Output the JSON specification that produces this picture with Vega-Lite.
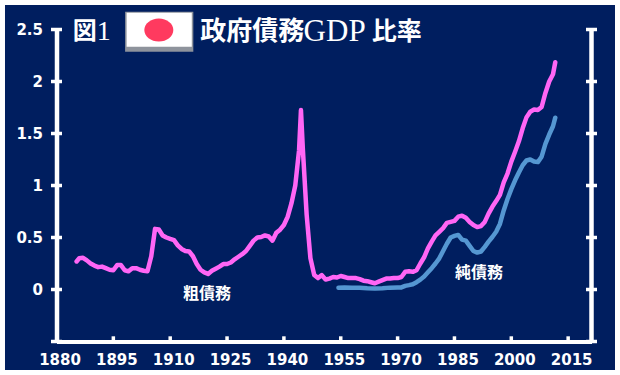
{"$schema":"https://vega.github.io/schema/vega-lite/v6.json","width":535,"height":312,"autosize":"none","padding":{"left":56.5,"top":29.5,"right":28.5,"bottom":33.5},"background":"white","view":{"stroke":null},
"datasets":{
"gross":[{"year":1885.3,"ratio":0.27},{"year":1886,"ratio":0.3},{"year":1887,"ratio":0.305},{"year":1888,"ratio":0.28},{"year":1889,"ratio":0.25},{"year":1890,"ratio":0.23},{"year":1891,"ratio":0.215},{"year":1892,"ratio":0.22},{"year":1893,"ratio":0.205},{"year":1894,"ratio":0.19},{"year":1895,"ratio":0.185},{"year":1896,"ratio":0.235},{"year":1897,"ratio":0.235},{"year":1898,"ratio":0.185},{"year":1899,"ratio":0.175},{"year":1900,"ratio":0.205},{"year":1901,"ratio":0.205},{"year":1902,"ratio":0.19},{"year":1903,"ratio":0.18},{"year":1904,"ratio":0.175},{"year":1905,"ratio":0.32},{"year":1906,"ratio":0.583},{"year":1907,"ratio":0.577},{"year":1908,"ratio":0.52},{"year":1909,"ratio":0.5},{"year":1910,"ratio":0.487},{"year":1911,"ratio":0.475},{"year":1912,"ratio":0.425},{"year":1913,"ratio":0.39},{"year":1914,"ratio":0.37},{"year":1915,"ratio":0.365},{"year":1916,"ratio":0.32},{"year":1917,"ratio":0.245},{"year":1918,"ratio":0.19},{"year":1919,"ratio":0.165},{"year":1920,"ratio":0.15},{"year":1921,"ratio":0.18},{"year":1922,"ratio":0.2},{"year":1923,"ratio":0.22},{"year":1924,"ratio":0.245},{"year":1925,"ratio":0.245},{"year":1926,"ratio":0.26},{"year":1927,"ratio":0.29},{"year":1928,"ratio":0.315},{"year":1929,"ratio":0.34},{"year":1930,"ratio":0.37},{"year":1931,"ratio":0.42},{"year":1932,"ratio":0.47},{"year":1933,"ratio":0.5},{"year":1934,"ratio":0.505},{"year":1935,"ratio":0.52},{"year":1936,"ratio":0.51},{"year":1937,"ratio":0.47},{"year":1938,"ratio":0.545},{"year":1939,"ratio":0.575},{"year":1940,"ratio":0.62},{"year":1941,"ratio":0.7},{"year":1942,"ratio":0.83},{"year":1943,"ratio":1.0},{"year":1944,"ratio":1.34},{"year":1944.5,"ratio":1.726},{"year":1945,"ratio":1.35},{"year":1946,"ratio":0.72},{"year":1947,"ratio":0.3},{"year":1948,"ratio":0.14},{"year":1949,"ratio":0.11},{"year":1950,"ratio":0.138},{"year":1951,"ratio":0.096},{"year":1952,"ratio":0.105},{"year":1953,"ratio":0.12},{"year":1954,"ratio":0.115},{"year":1955,"ratio":0.13},{"year":1956,"ratio":0.12},{"year":1957,"ratio":0.11},{"year":1958,"ratio":0.11},{"year":1959,"ratio":0.11},{"year":1960,"ratio":0.1},{"year":1961,"ratio":0.085},{"year":1962,"ratio":0.08},{"year":1963,"ratio":0.07},{"year":1964,"ratio":0.06},{"year":1965,"ratio":0.075},{"year":1966,"ratio":0.09},{"year":1967,"ratio":0.105},{"year":1968,"ratio":0.105},{"year":1969,"ratio":0.11},{"year":1970,"ratio":0.11},{"year":1971,"ratio":0.12},{"year":1972,"ratio":0.17},{"year":1973,"ratio":0.175},{"year":1974,"ratio":0.17},{"year":1975,"ratio":0.185},{"year":1976,"ratio":0.25},{"year":1977,"ratio":0.31},{"year":1978,"ratio":0.395},{"year":1979,"ratio":0.46},{"year":1980,"ratio":0.52},{"year":1981,"ratio":0.555},{"year":1982,"ratio":0.59},{"year":1983,"ratio":0.64},{"year":1984,"ratio":0.65},{"year":1985,"ratio":0.66},{"year":1986,"ratio":0.7},{"year":1987,"ratio":0.71},{"year":1988,"ratio":0.69},{"year":1989,"ratio":0.65},{"year":1990,"ratio":0.62},{"year":1991,"ratio":0.6},{"year":1992,"ratio":0.61},{"year":1993,"ratio":0.65},{"year":1994,"ratio":0.73},{"year":1995,"ratio":0.795},{"year":1996,"ratio":0.85},{"year":1997,"ratio":0.91},{"year":1998,"ratio":1.03},{"year":1999,"ratio":1.115},{"year":2000,"ratio":1.23},{"year":2001,"ratio":1.325},{"year":2002,"ratio":1.425},{"year":2003,"ratio":1.55},{"year":2004,"ratio":1.655},{"year":2005,"ratio":1.71},{"year":2006,"ratio":1.73},{"year":2007,"ratio":1.726},{"year":2008,"ratio":1.755},{"year":2009,"ratio":1.89},{"year":2010,"ratio":2.0},{"year":2011,"ratio":2.07},{"year":2011.6,"ratio":2.185}],
"net":[{"year":1954.4,"ratio":0.016},{"year":1956,"ratio":0.02},{"year":1958,"ratio":0.018},{"year":1960,"ratio":0.016},{"year":1962,"ratio":0.012},{"year":1964,"ratio":0.01},{"year":1966,"ratio":0.012},{"year":1968,"ratio":0.018},{"year":1970,"ratio":0.02},{"year":1971,"ratio":0.02},{"year":1972,"ratio":0.035},{"year":1973,"ratio":0.042},{"year":1974,"ratio":0.05},{"year":1975,"ratio":0.07},{"year":1976,"ratio":0.095},{"year":1977,"ratio":0.125},{"year":1978,"ratio":0.165},{"year":1979,"ratio":0.205},{"year":1980,"ratio":0.25},{"year":1981,"ratio":0.3},{"year":1982,"ratio":0.37},{"year":1983,"ratio":0.44},{"year":1984,"ratio":0.5},{"year":1985,"ratio":0.515},{"year":1986,"ratio":0.525},{"year":1987,"ratio":0.48},{"year":1988,"ratio":0.47},{"year":1989,"ratio":0.42},{"year":1990,"ratio":0.37},{"year":1991,"ratio":0.355},{"year":1992,"ratio":0.365},{"year":1993,"ratio":0.41},{"year":1994,"ratio":0.46},{"year":1995,"ratio":0.505},{"year":1996,"ratio":0.555},{"year":1997,"ratio":0.63},{"year":1998,"ratio":0.76},{"year":1999,"ratio":0.87},{"year":2000,"ratio":0.965},{"year":2001,"ratio":1.05},{"year":2002,"ratio":1.125},{"year":2003,"ratio":1.195},{"year":2004,"ratio":1.24},{"year":2005,"ratio":1.25},{"year":2006,"ratio":1.23},{"year":2007,"ratio":1.225},{"year":2008,"ratio":1.277},{"year":2009,"ratio":1.4},{"year":2010,"ratio":1.49},{"year":2011,"ratio":1.57},{"year":2011.6,"ratio":1.652}],
"yticks":[{"year":1878.55,"year_end":1881.45,"ratio":-0.5},{"year":1878.55,"year_end":1881.45,"ratio":0},{"year":1878.55,"year_end":1881.45,"ratio":0.5},{"year":1878.55,"year_end":1881.45,"ratio":1},{"year":1878.55,"year_end":1881.45,"ratio":1.5},{"year":1878.55,"year_end":1881.45,"ratio":2},{"year":1878.55,"year_end":1881.45,"ratio":2.5},{"year":2019.71,"year_end":2022.61,"ratio":-0.5},{"year":2019.71,"year_end":2022.61,"ratio":0},{"year":2019.71,"year_end":2022.61,"ratio":0.5},{"year":2019.71,"year_end":2022.61,"ratio":1},{"year":2019.71,"year_end":2022.61,"ratio":1.5},{"year":2019.71,"year_end":2022.61,"ratio":2},{"year":2019.71,"year_end":2022.61,"ratio":2.5}],
"xticks":[{"year":1895,"ratio":-0.5,"ratio_end":-0.45},{"year":1910,"ratio":-0.5,"ratio_end":-0.45},{"year":1925,"ratio":-0.5,"ratio_end":-0.45},{"year":1940,"ratio":-0.5,"ratio_end":-0.45},{"year":1955,"ratio":-0.5,"ratio_end":-0.45},{"year":1970,"ratio":-0.5,"ratio_end":-0.45},{"year":1985,"ratio":-0.5,"ratio_end":-0.45},{"year":2000,"ratio":-0.5,"ratio_end":-0.45},{"year":2015,"ratio":-0.5,"ratio_end":-0.45}]},
"encoding":{"x":{"field":"year","type":"quantitative","scale":{"domain":[1880,2021.16],"nice":false,"zero":false},"axis":{"values":[1880,1895,1910,1925,1940,1955,1970,1985,2000,2015],"format":"d","title":null,"grid":false,"zindex":1,"domainColor":"white","domainWidth":4,"ticks":false,"labelColor":"white","labelFont":"DejaVu Sans","labelFontWeight":"bold","labelFontSize":15,"labelPadding":11,"labelOffset":3,"labelFlush":false,"labelOverlap":false}},
"y":{"field":"ratio","type":"quantitative","scale":{"domain":[-0.5,2.5],"nice":false,"zero":false},"axis":{"values":[0,0.5,1,1.5,2,2.5],"format":".1~f","title":null,"grid":false,"zindex":1,"domainColor":"white","domainWidth":4.5,"ticks":false,"labelColor":"white","labelFont":"DejaVu Sans","labelFontWeight":"bold","labelFontSize":15,"labelPadding":14,"labelFlush":false,"labelOverlap":false}}},
"layer":[
{"data":{"values":[{"year":1866.41,"year_end":2027.36,"ratio":-0.774,"ratio_end":2.7356}]},"mark":{"type":"rect","color":"#001E5F"},"encoding":{"x2":{"field":"year_end"},"y2":{"field":"ratio_end"}}},
{"data":{"values":[{"year":1898.1,"year_end":1916.1,"ratio":2.287,"ratio_end":2.671}]},"mark":{"type":"rect","color":"#8E939C"},"encoding":{"x2":{"field":"year_end"},"y2":{"field":"ratio_end"}}},
{"data":{"values":[{"year":1898.5,"year_end":1915.7,"ratio":2.335,"ratio_end":2.66}]},"mark":{"type":"rect","color":"white"},"encoding":{"x2":{"field":"year_end"},"y2":{"field":"ratio_end"}}},
{"data":{"values":[{"year":1907,"ratio":2.495}]},"mark":{"type":"point","filled":true,"opacity":1,"color":"#FF3A5F","shape":"M-1,0A1,0.8,0,1,1,1,0A1,0.8,0,1,1,-1,0Z","size":841}},
{"data":{"name":"gross"},"mark":{"type":"line","color":"#FF66F5","strokeWidth":4.5,"strokeCap":"round","strokeJoin":"round"}},
{"data":{"name":"net"},"mark":{"type":"line","color":"#5597D2","strokeWidth":4.5,"strokeCap":"round","strokeJoin":"round"}},
{"data":{"values":[{"year":2021.16,"ratio":-0.5,"ratio_end":2.5}]},"mark":{"type":"rule","color":"white","strokeWidth":4.5},"encoding":{"y2":{"field":"ratio_end"}}},
{"data":{"name":"yticks"},"mark":{"type":"rule","color":"white","strokeWidth":3.5},"encoding":{"x2":{"field":"year_end"}}},
{"data":{"name":"xticks"},"mark":{"type":"rule","color":"white","strokeWidth":3.5},"encoding":{"y2":{"field":"ratio_end"}}},
{"data":{"values":[{"year":1919.7,"ratio":-0.043,"label":"粗債務"},{"year":1991.5,"ratio":0.16,"label":"純債務"}]},"mark":{"type":"text","color":"white","font":"Noto Sans CJK JP","fontWeight":"bold","fontSize":16},"encoding":{"text":{"field":"label"}}},
{"data":{"values":[{"year":1884.3,"ratio":2.476,"label":"図"}]},"mark":{"type":"text","color":"white","font":"Noto Sans CJK JP","fontWeight":"bold","fontSize":24,"align":"left"},"encoding":{"text":{"field":"label"}}},
{"data":{"values":[{"year":1890.6,"ratio":2.476,"label":"1"}]},"mark":{"type":"text","color":"white","font":"Liberation Serif","fontSize":28,"align":"left"},"encoding":{"text":{"field":"label"}}},
{"data":{"values":[{"year":1917.9,"ratio":2.48,"label":"政府債務"}]},"mark":{"type":"text","color":"white","font":"Noto Sans CJK JP","fontWeight":"bold","fontSize":26,"align":"left"},"encoding":{"text":{"field":"label"}}},
{"data":{"values":[{"year":1945.2,"ratio":2.476,"label":"GDP"}]},"mark":{"type":"text","color":"white","font":"Liberation Serif","fontSize":31,"align":"left"},"encoding":{"text":{"field":"label"}}},
{"data":{"values":[{"year":1963.2,"ratio":2.48,"label":"比率"}]},"mark":{"type":"text","color":"white","font":"Noto Sans CJK JP","fontWeight":"bold","fontSize":25,"align":"left"},"encoding":{"text":{"field":"label"}}}
]}
